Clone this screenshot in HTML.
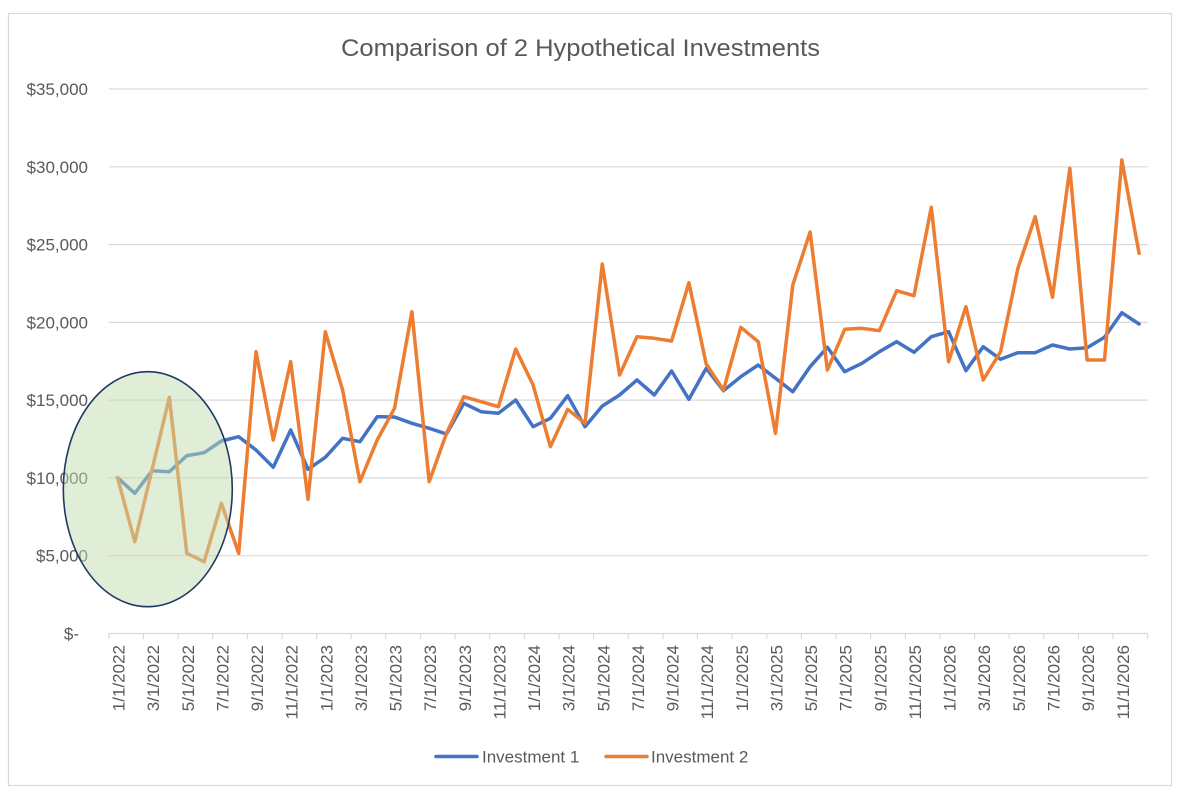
<!DOCTYPE html>
<html>
<head>
<meta charset="utf-8">
<style>
html,body{margin:0;padding:0;background:#fff;}
svg{display:block;}
text{font-family:"Liberation Sans",Arial,sans-serif;fill:#595959;}
</style>
</head>
<body>
<svg width="1182" height="800" viewBox="0 0 1182 800" xmlns="http://www.w3.org/2000/svg">
<rect x="0" y="0" width="1182" height="800" fill="#fff"/>
<rect x="8.5" y="13.5" width="1163" height="772" fill="#fff" stroke="#d9d9d9" stroke-width="1.2"/>

<text x="580.5" y="56" font-size="24" text-anchor="middle" textLength="479" lengthAdjust="spacingAndGlyphs">Comparison of 2 Hypothetical Investments</text>

<g stroke="#d9d9d9" stroke-width="1.2">
<line x1="108.8" y1="89" x2="1147.7" y2="89"/>
<line x1="108.8" y1="166.8" x2="1147.7" y2="166.8"/>
<line x1="108.8" y1="244.6" x2="1147.7" y2="244.6"/>
<line x1="108.8" y1="322.4" x2="1147.7" y2="322.4"/>
<line x1="108.8" y1="400.1" x2="1147.7" y2="400.1"/>
<line x1="108.8" y1="477.9" x2="1147.7" y2="477.9"/>
<line x1="108.8" y1="555.7" x2="1147.7" y2="555.7"/>
<line x1="108.8" y1="633.5" x2="1147.7" y2="633.5"/>
<path d="M108.8 633.5v5.5M143.4 633.5v5.5M178.1 633.5v5.5M212.7 633.5v5.5M247.3 633.5v5.5M282 633.5v5.5M316.6 633.5v5.5M351.2 633.5v5.5M385.8 633.5v5.5M420.5 633.5v5.5M455.1 633.5v5.5M489.7 633.5v5.5M524.4 633.5v5.5M559 633.5v5.5M593.6 633.5v5.5M628.3 633.5v5.5M662.9 633.5v5.5M697.5 633.5v5.5M732.1 633.5v5.5M766.8 633.5v5.5M801.4 633.5v5.5M836 633.5v5.5M870.7 633.5v5.5M905.3 633.5v5.5M939.9 633.5v5.5M974.6 633.5v5.5M1009.2 633.5v5.5M1043.8 633.5v5.5M1078.4 633.5v5.5M1113.1 633.5v5.5M1147.7 633.5v5.5"/>
</g>

<g font-size="17" text-anchor="end">
<text x="88" y="95">$35,000</text>
<text x="88" y="172.8">$30,000</text>
<text x="88" y="250.6">$25,000</text>
<text x="88" y="328.4">$20,000</text>
<text x="88" y="406.1">$15,000</text>
<text x="88" y="483.9">$10,000</text>
<text x="88" y="561.7">$5,000</text>
<text x="79" y="639.5">$-</text>
</g>

<g font-size="17" text-anchor="end">
<text transform="translate(124.5,645) rotate(-90)">1/1/2022</text>
<text transform="translate(159.1,645) rotate(-90)">3/1/2022</text>
<text transform="translate(193.8,645) rotate(-90)">5/1/2022</text>
<text transform="translate(228.4,645) rotate(-90)">7/1/2022</text>
<text transform="translate(263,645) rotate(-90)">9/1/2022</text>
<text transform="translate(297.7,645) rotate(-90)">11/1/2022</text>
<text transform="translate(332.3,645) rotate(-90)">1/1/2023</text>
<text transform="translate(366.9,645) rotate(-90)">3/1/2023</text>
<text transform="translate(401.5,645) rotate(-90)">5/1/2023</text>
<text transform="translate(436.2,645) rotate(-90)">7/1/2023</text>
<text transform="translate(470.8,645) rotate(-90)">9/1/2023</text>
<text transform="translate(505.4,645) rotate(-90)">11/1/2023</text>
<text transform="translate(540.1,645) rotate(-90)">1/1/2024</text>
<text transform="translate(574.7,645) rotate(-90)">3/1/2024</text>
<text transform="translate(609.3,645) rotate(-90)">5/1/2024</text>
<text transform="translate(644,645) rotate(-90)">7/1/2024</text>
<text transform="translate(678.6,645) rotate(-90)">9/1/2024</text>
<text transform="translate(713.2,645) rotate(-90)">11/1/2024</text>
<text transform="translate(747.8,645) rotate(-90)">1/1/2025</text>
<text transform="translate(782.5,645) rotate(-90)">3/1/2025</text>
<text transform="translate(817.1,645) rotate(-90)">5/1/2025</text>
<text transform="translate(851.7,645) rotate(-90)">7/1/2025</text>
<text transform="translate(886.4,645) rotate(-90)">9/1/2025</text>
<text transform="translate(921,645) rotate(-90)">11/1/2025</text>
<text transform="translate(955.6,645) rotate(-90)">1/1/2026</text>
<text transform="translate(990.2,645) rotate(-90)">3/1/2026</text>
<text transform="translate(1024.9,645) rotate(-90)">5/1/2026</text>
<text transform="translate(1059.5,645) rotate(-90)">7/1/2026</text>
<text transform="translate(1094.1,645) rotate(-90)">9/1/2026</text>
<text transform="translate(1128.8,645) rotate(-90)">11/1/2026</text>
</g>

<!-- Investment 1 -->
<polyline fill="none" stroke="#4472c4" stroke-width="3.5" stroke-linejoin="round" stroke-linecap="round"
points="117.5,477.7 134.8,493.3 152.1,470.7 169.4,471.7 186.8,455.7 204.1,452.7 221.4,441 238.7,436.7 256,450 273.3,467.3 290.7,430 308,469.3 325.3,457.3 342.6,438.3 359.9,441.7 377.2,416.7 394.5,417 411.9,423.3 429.2,428.3 446.5,434 463.8,403.3 481.1,411.7 498.4,413.3 515.7,400 533.1,426.7 550.4,418.3 567.7,395.7 585,426.7 602.3,406 619.6,395 637,380 654.3,395 671.6,371 688.9,399.3 706.2,368.3 723.5,390.7 740.8,376.7 758.2,365 775.5,378.3 792.8,391.7 810.1,366.7 827.4,347.3 844.7,371.7 862,363.3 879.4,351.7 896.7,341.7 914,352.3 931.3,336.7 948.6,331.7 965.9,370.7 983.2,346.7 1000.6,359.3 1017.9,352.7 1035.2,352.7 1052.5,345 1069.8,349 1087.1,347.7 1104.5,337.3 1121.8,312.7 1139.1,324"/>

<!-- Investment 2 -->
<polyline fill="none" stroke="#ed7d31" stroke-width="3.5" stroke-linejoin="round" stroke-linecap="round"
points="117.5,477.7 134.8,541.7 152.1,469.3 169.4,397.3 186.8,553.3 204.1,561.7 221.4,503.3 238.7,553.3 256,351.7 273.3,440 290.7,361.7 308,499.3 325.3,331.7 342.6,390 359.9,481.7 377.2,440 394.5,408.3 411.9,311.7 429.2,481.7 446.5,433.3 463.8,396.7 481.1,401.7 498.4,406.7 515.7,349 533.1,385 550.4,446.7 567.7,409.3 585,423.3 602.3,264 619.6,375 637,336.7 654.3,338.3 671.6,341 688.9,282.7 706.2,364 723.5,390 740.8,327.3 758.2,341.7 775.5,433.3 792.8,285 810.1,232 827.4,370 844.7,329.3 862,328.3 879.4,330.7 896.7,290.7 914,295.7 931.3,207.3 948.6,361.7 965.9,306.7 983.2,380 1000.6,351.7 1017.9,268.3 1035.2,216.7 1052.5,297.3 1069.8,168.3 1087.1,360 1104.5,360 1121.8,160 1139.1,253.3"/>

<!-- highlight ellipse -->
<ellipse cx="147.8" cy="489.2" rx="84.5" ry="117.5" fill="#c1dbb0" fill-opacity="0.5" stroke="#203864" stroke-width="1.6"/>

<!-- legend -->
<line x1="436" y1="756.5" x2="477" y2="756.5" stroke="#4472c4" stroke-width="3.5" stroke-linecap="round"/>
<text x="482" y="762.5" font-size="17">Investment 1</text>
<line x1="606" y1="756.5" x2="647" y2="756.5" stroke="#ed7d31" stroke-width="3.5" stroke-linecap="round"/>
<text x="651" y="762.5" font-size="17">Investment 2</text>
</svg>
</body>
</html>
